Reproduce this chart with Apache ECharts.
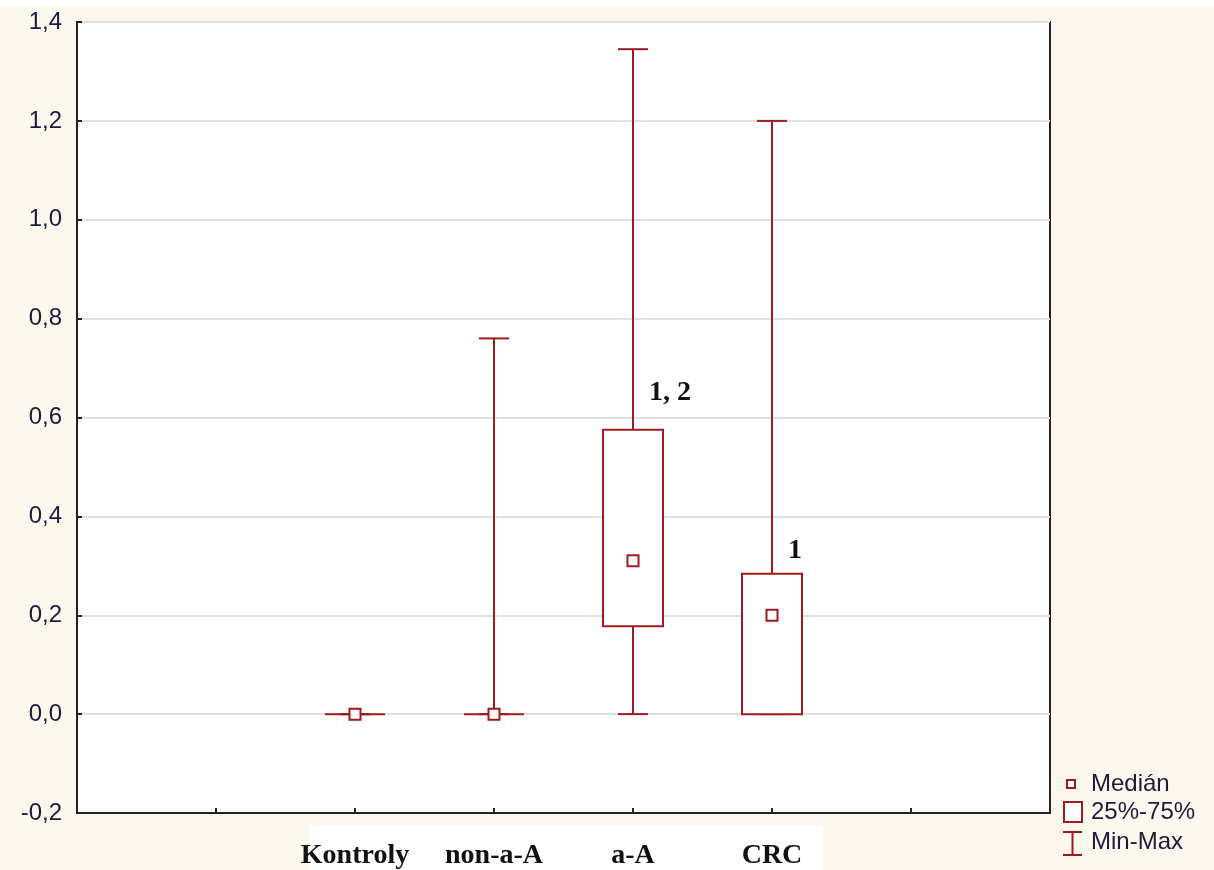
<!DOCTYPE html>
<html>
<head>
<meta charset="utf-8">
<title>Box plot</title>
<script src="https://cdn.jsdelivr.net/npm/echarts@6/dist/echarts.min.js"></script>
<style>
    html, body { margin: 0; padding: 0; background: #fdf8ee; }
    #chart { width: 1214px; height: 870px; }
</style>
</head>
<body>
<div id="chart"></div>
<script>
    // groups, in order on the x axis
    var categories = ['Kontroly', 'non-a-A', 'a-A', 'CRC'];
    // min, 25%, median, 75%, max
    var minValues    = [0, 0, 0,     0];
    var q1Values     = [0, 0, 0.178, 0];
    var medianValues = [0, 0, 0.31,  0.2];
    var q3Values     = [0, 0, 0.575, 0.284];
    var maxValues    = [0, 0.76, 1.345, 1.2];
    // significance marks above the boxes
    var noteCats   = ['a-A', 'CRC'];
    var noteValues = [0.65, 0.33];
    var noteTexts  = ['1, 2', '1'];

    var RED = '#9e1b1f';
    var firstSlot = 2; // two empty slots on the left of the first group

    var boxData = categories.map(function (c, i) {
        return [i + firstSlot, minValues[i], q1Values[i], medianValues[i], q3Values[i], maxValues[i]];
    });
    var noteData = noteCats.map(function (c, i) {
        return { value: [categories.indexOf(c) + firstSlot, noteValues[i]], text: noteTexts[i] };
    });

    function renderBox(params, api) {
        var x = api.value(0);
        var pMin = api.coord([x, api.value(1)]);
        var pQ1 = api.coord([x, api.value(2)]);
        var pMed = api.coord([x, api.value(3)]);
        var pQ3 = api.coord([x, api.value(4)]);
        var pMax = api.coord([x, api.value(5)]);
        var cx = pMin[0];
        var bw = 60, cw = 30, ms = 11;
        var ln = { stroke: RED, lineWidth: 2 };
        return {
            type: 'group',
            children: [
                { type: 'line', shape: { x1: cx, y1: pMax[1], x2: cx, y2: pQ3[1] }, style: ln },
                { type: 'line', shape: { x1: cx - cw / 2, y1: pMax[1], x2: cx + cw / 2, y2: pMax[1] }, style: ln },
                { type: 'line', shape: { x1: cx, y1: pQ1[1], x2: cx, y2: pMin[1] }, style: ln },
                { type: 'line', shape: { x1: cx - cw / 2, y1: pMin[1], x2: cx + cw / 2, y2: pMin[1] }, style: ln },
                { type: 'rect', shape: { x: cx - bw / 2, y: pQ3[1], width: bw, height: pQ1[1] - pQ3[1] },
                  style: { stroke: RED, lineWidth: 2, fill: '#fff' } },
                { type: 'rect', shape: { x: cx - ms / 2, y: pMed[1] - ms / 2, width: ms, height: ms },
                  style: { stroke: RED, lineWidth: 2, fill: '#fff' } }
            ]
        };
    }

    function renderNote(params, api) {
        var p = api.coord([api.value(0), api.value(1)]);
        return {
            type: 'text',
            x: p[0] + 16,
            y: p[1],
            style: {
                text: noteData[params.dataIndex].text,
                fill: '#111',
                font: 'bold 28px "Liberation Serif", serif',
                verticalAlign: 'middle',
                align: 'left'
            }
        };
    }

    var legendFont = '24px "Liberation Sans", Arial, sans-serif';

    var chart = echarts.init(document.getElementById('chart'));
    var option = {
        backgroundColor: '#fdf8ee',
        animation: false,
        grid: {
            left: 77, right: 164, top: 22, bottom: 57,
            show: true, backgroundColor: '#fff', borderColor: '#222', borderWidth: 2
        },
        xAxis: {
            type: 'value',
            min: 0, max: 7, interval: 1,
            splitLine: { show: false },
            axisLine: { show: true, onZero: false, lineStyle: { color: '#222', width: 2 } },
            axisTick: { show: true, inside: true, length: 5, lineStyle: { color: '#222', width: 2 } },
            axisLabel: {
                margin: 29,
                fontFamily: '"Liberation Serif", serif',
                fontWeight: 'bold',
                fontSize: 28,
                color: '#111',
                showMinLabel: false, showMaxLabel: false,
                formatter: function (v) {
                    var c = categories[Math.round(v) - firstSlot];
                    return c || '';
                }
            }
        },
        yAxis: {
            type: 'value',
            min: -0.2, max: 1.4, interval: 0.2,
            splitLine: { show: true, lineStyle: { color: '#e0e0e0', width: 2 } },
            axisLine: { show: true, lineStyle: { color: '#222', width: 2 } },
            axisTick: { show: true, inside: true, length: 5, lineStyle: { color: '#222', width: 2 } },
            axisLabel: {
                margin: 15,
                fontFamily: '"Liberation Sans", Arial, sans-serif',
                fontSize: 24,
                color: '#1c1c3a',
                formatter: function (v) {
                    return (Math.round(v * 10) / 10).toFixed(1).replace('.', ',');
                }
            }
        },
        graphic: [
            { type: 'rect', z: -1, shape: { x: 0, y: 0, width: 1214, height: 6 }, style: { fill: '#fff' } },
            { type: 'rect', z: -1, shape: { x: 309, y: 825, width: 514, height: 45 }, style: { fill: '#fff' } },
            // legend
            { type: 'rect', shape: { x: 1067, y: 780, width: 8, height: 8 }, style: { fill: '#fff', stroke: RED, lineWidth: 2 } },
            { type: 'rect', shape: { x: 1064, y: 802, width: 18, height: 20 }, style: { fill: '#fff', stroke: RED, lineWidth: 2 } },
            { type: 'line', shape: { x1: 1063, y1: 832, x2: 1082, y2: 832 }, style: { stroke: RED, lineWidth: 2 } },
            { type: 'line', shape: { x1: 1072.5, y1: 832, x2: 1072.5, y2: 855 }, style: { stroke: RED, lineWidth: 2 } },
            { type: 'line', shape: { x1: 1063, y1: 855, x2: 1082, y2: 855 }, style: { stroke: RED, lineWidth: 2 } },
            { type: 'text', x: 1091, y: 784, style: { text: 'Medián', font: legendFont, fill: '#1c1c3a', verticalAlign: 'middle' } },
            { type: 'text', x: 1091, y: 812, style: { text: '25%-75%', font: legendFont, fill: '#1c1c3a', verticalAlign: 'middle' } },
            { type: 'text', x: 1091, y: 842, style: { text: 'Min-Max', font: legendFont, fill: '#1c1c3a', verticalAlign: 'middle' } }
        ],
        series: [
            {
                type: 'custom',
                renderItem: renderBox,
                encode: { x: 0, y: [1, 2, 3, 4, 5] },
                data: boxData,
                z: 3
            },
            {
                type: 'custom',
                renderItem: renderNote,
                encode: { x: 0, y: 1 },
                data: noteData,
                z: 4
            }
        ]
    };
    chart.setOption(option);
</script>
</body>
</html>
